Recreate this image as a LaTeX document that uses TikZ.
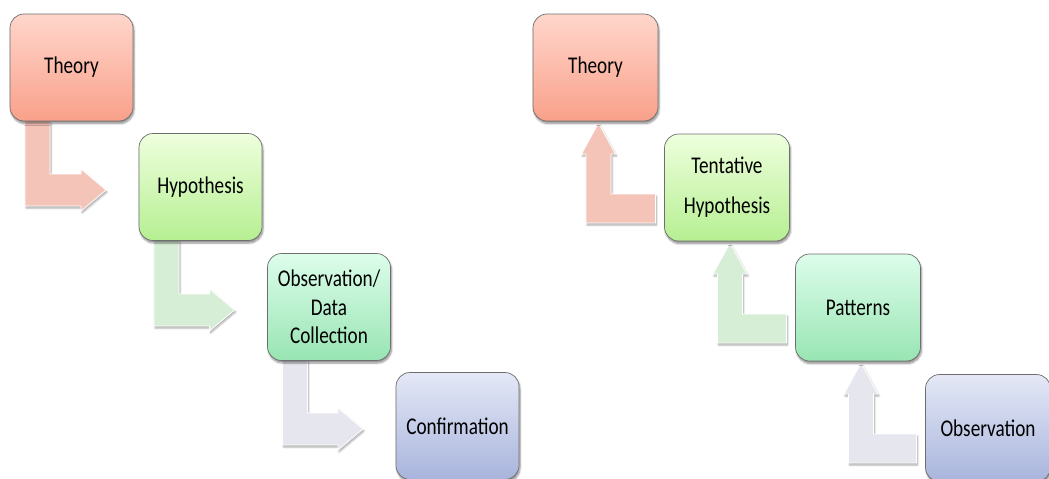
\documentclass[tikz,border=0pt]{standalone}
\usepackage{fontspec}
\setmainfont{Carlito}[FakeStretch=0.8]
\usetikzlibrary{calc,shadows.blur,backgrounds}

% box fills (top / bottom of the gradient)
\definecolor{redtop}{HTML}{FFD6CB}
\definecolor{redbot}{HTML}{F9A08A}
\definecolor{limetop}{HTML}{EEFFDD}
\definecolor{limebot}{HTML}{B6EF92}
\definecolor{minttop}{HTML}{DDFDEB}
\definecolor{mintbot}{HTML}{98E5B3}
\definecolor{bluetop}{HTML}{E4E8F6}
\definecolor{bluebot}{HTML}{A8B4DC}
\definecolor{boxline}{HTML}{6E6E6E}
% arrow fills
\definecolor{arrpink}{HTML}{F5C4B8}
\definecolor{arrgreen}{HTML}{D6EDD6}
\definecolor{arrgrey}{HTML}{E6E7EE}

\tikzset{
  stagebox/.style={rectangle, rounded corners=14pt, draw=boxline, line width=0.7pt,
    minimum height=107pt, outer sep=0pt, inner sep=2pt, align=center,
    text=black, font=\fontsize{24}{28.5}\selectfont,
    blur shadow={shadow xshift=1pt, shadow yshift=-2.5pt, shadow blur steps=6, shadow opacity=45}},
  leftbox/.style={stagebox, minimum width=123pt},
  rightbox/.style={stagebox, minimum width=125pt},
  red/.style={top color=redtop, bottom color=redbot},
  lime/.style={top color=limetop, bottom color=limebot},
  mint/.style={top color=minttop, bottom color=mintbot},
  blue/.style={top color=bluetop, bottom color=bluebot},
  flowarrow/.style={draw=white, line width=0.8pt, line join=miter,
    blur shadow={shadow xshift=1pt, shadow yshift=-2pt, shadow blur steps=5, shadow opacity=35}}
}

% bent arrow: down out of #1, then right towards #2
\newcommand\stepdown[3]{%
  \path[flowarrow, fill=#3] let \p1=(#1.south west), \p2=(#2.west) in
    (\x1+15pt,\y1) -- (\x1+40pt,\y1) -- (\x1+40pt,\y2+13pt)
    -- (\x2-58pt,\y2+13pt) -- (\x2-58pt,\y2+18pt) -- (\x2-33pt,\y2-3pt)
    -- (\x2-58pt,\y2-24pt) -- (\x2-58pt,\y2-19pt) -- (\x1+15pt,\y2-19pt) -- cycle;
}
% bent arrow: left out of #1, then up into #2
\newcommand\stepup[3]{%
  \path[flowarrow, fill=#3] let \p1=(#1.west), \p2=(#2.south) in
    (\x2+3pt,\y2-2pt) -- (\x2+20pt,\y2-33pt) -- (\x2+15.5pt,\y2-33pt)
    -- (\x2+15.5pt,\y2-73pt) -- (\x1-9pt,\y2-73pt) -- (\x1-9pt,\y2-102pt)
    -- (\x2-9.5pt,\y2-102pt) -- (\x2-9.5pt,\y2-33pt) -- (\x2-14pt,\y2-33pt) -- cycle;
}

\begin{document}
\begin{tikzpicture}[x=1pt, y=-1pt]
\useasboundingbox (0,0) rectangle (1049,479);

% deductive chain
\node[leftbox, red]  (theoryL) at (71.5,67.5) {Theory};
\node[leftbox, lime] (hypL)    at (200.5,187) {Hypothesis};
\node[leftbox, mint] (obsL)    at (329,307)   {Observation/\\Data\\Collection};
\node[leftbox, blue] (confL)   at (457.5,426) {Confirmation};

% inductive chain
\node[rightbox, red]  (theoryR) at (595.5,67.5) {Theory};
\node[rightbox, lime, font=\fontsize{24}{40}\selectfont] (tentR) at (727,187.5) {Tentative\\Hypothesis};
\node[rightbox, mint] (patR)    at (858,307.5) {Patterns};
\node[rightbox, blue] (obsR)    at (988,428)   {Observation};

\begin{scope}[on background layer]
  \stepdown{theoryL}{hypL}{arrpink}
  \stepdown{hypL}{obsL}{arrgreen}
  \stepdown{obsL}{confL}{arrgrey}
  \stepup{tentR}{theoryR}{arrpink}
  \stepup{patR}{tentR}{arrgreen}
  \stepup{obsR}{patR}{arrgrey}
\end{scope}
\end{tikzpicture}
\end{document}
